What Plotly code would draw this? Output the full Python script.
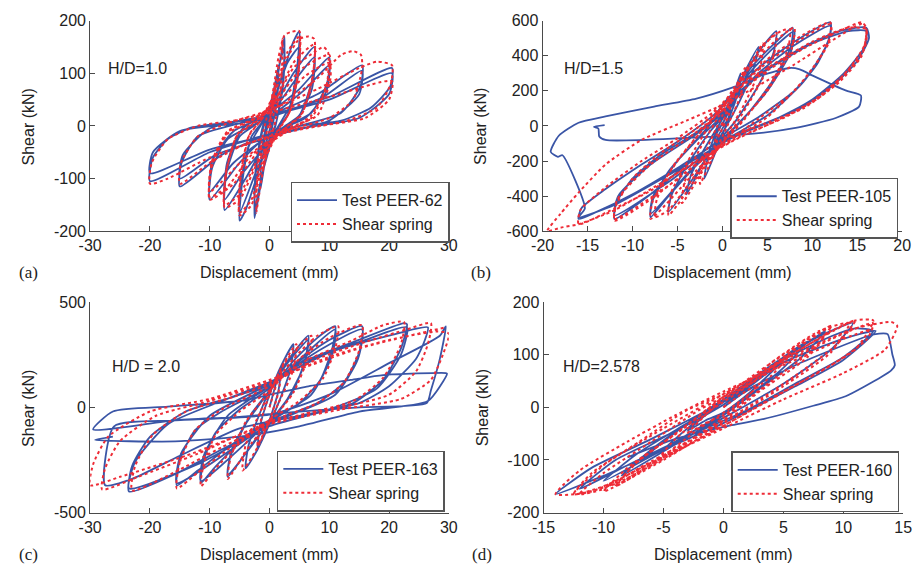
import plotly.graph_objects as go

# ---------------- data ----------------
# Panel (a)  H/D = 1.0
A_TEST = [
    (0, 0), (0.5, 35), (1, 70), (0.8, 30), (0.2, 0), (-0.5, -30), (-1, -60), (-0.8, -25), (-0.2, 5),
    (0.7, 55), (1.5, 115), (1.3, 50), (0.4, -5), (-0.6, -55), (-1.5, -120), (-1.3, -50), (-0.4, 10),
    (1, 70), (2.5, 170), (2.3, 90), (1.2, 10), (-0.2, -40), (-1.3, -100), (-2.5, -175), (-2.3, -90), (-1.2, -10), (0.2, 40),
    (1.3, 100), (2.5, 150), (2.3, 80), (1.1, 5), (-1.3, -95), (-2.5, -160), (-2.3, -80), (-1.1, 0),
    (0.5, 40), (2.5, 110), (4, 160), (5, 180), (4.7, 120), (3.5, 40), (1.5, 0), (-0.5, -40), (-2.5, -110), (-4, -160),
    (-5, -180), (-4.7, -120), (-3.5, -40), (-1.5, 0),
    (0.5, 40), (3, 120), (5, 150), (4.7, 90), (3, 20), (1, -10), (-2, -80), (-5, -165), (-4.7, -100), (-3, -20), (-1, 10),
    (1, 40), (4, 100), (7.5, 150), (7.2, 90), (5, 20), (2, -5), (-1, -40), (-4, -100), (-7.5, -160), (-7.2, -90), (-5, -20), (-2, 5),
    (1, 35), (4.5, 90), (7.5, 130), (7.1, 70), (4.5, 10), (1, -20), (-4.5, -90), (-7.5, -140), (-7.1, -70), (-4.5, -5),
    (0, 25), (5, 70), (10, 130), (9.6, 80), (7, 25), (3, 0), (-1, -25), (-5, -70), (-10, -140), (-9.6, -80), (-7, -25), (-3, 0),
    (1, 25), (6, 70), (10, 115), (9.5, 65), (6, 15), (1, -10), (-6, -70), (-10, -125), (-9.5, -65), (-6, -10),
    (0, 20), (8, 60), (15.5, 115), (15.2, 75), (12, 25), (5, 0), (0, -15), (-8, -55), (-15, -115), (-14.7, -70), (-12, -20), (-5, 5),
    (1, 20), (9, 55), (15.5, 105), (15, 60), (10, 10), (2, -15), (-9, -55), (-15, -100), (-14.5, -55), (-10, -5),
    (0, 20), (10, 55), (20.5, 110), (20.2, 75), (17, 35), (12, 10), (5, 0), (0, -15), (-10, -50), (-20, -105),
    (-19.5, -60), (-17, -25), (-13, -3), (-6, 8),
    (0, 20), (10, 50), (20.5, 100), (20, 60), (15, 15), (5, -5), (-10, -45), (-20, -90), (-19.5, -50), (-15, -10), (-5, 5), (0, 15),
]
A_SPRING = [
    (0, 0), (0.5, 40), (1, 80), (0.8, 30), (0, -10), (-0.5, -45), (-1, -80), (-0.8, -30), (0, 10),
    (1, 80), (2, 140), (2.2, 165), (2, 90), (1, 10), (-1, -80), (-2, -150), (-2.2, -165), (-2, -90), (-1, -10),
    (0.5, 60), (1.5, 130), (2.5, 172), (3.5, 178), (5, 180), (4.9, 110), (3.5, 30), (1.5, -10), (-1, -70), (-3, -150),
    (-5, -170), (-4.9, -100), (-3.5, -20), (-1.5, 10),
    (0.5, 55), (3, 140), (5, 170), (4.8, 100), (3.3, 25), (1.3, -10), (-1, -60), (-3, -140), (-5, -165), (-4.8, -95),
    (-3.3, -15), (-1.3, 12),
    (0.5, 50), (3, 130), (5, 165), (6.5, 170), (7.5, 165), (7.3, 100), (5.5, 25), (2, -10), (-2, -70), (-5, -140),
    (-7.5, -155), (-7.3, -90), (-5.5, -20), (-2, 10),
    (1, 50), (4, 120), (7.5, 155), (7.2, 90), (5.3, 20), (2, -10), (-2, -65), (-5, -130), (-7.5, -150), (-7.2, -85),
    (-5.3, -15), (-2, 12),
    (1, 50), (4, 110), (7.5, 140), (9, 150), (9.8, 140), (9.6, 80), (7, 20), (3, -10), (-2, -50), (-6, -110),
    (-10, -140), (-9.7, -80), (-7, -15), (-3, 10),
    (1, 45), (5, 105), (10, 135), (9.7, 80), (7, 15), (3, -8), (-3, -55), (-7, -115), (-10, -135), (-9.7, -75),
    (-7, -12), (-3, 12),
    (1, 40), (6, 95), (10, 120), (10.2, 90), (8, 20), (3, -5), (-4, -60), (-10, -125), (-9.7, -70), (-7, -10), (-2, 15),
    (2, 40), (8, 90), (12, 135), (14, 142), (15.3, 135), (15.5, 110), (14, 50), (10, 15), (3, -8), (-5, -40),
    (-10, -70), (-15, -110), (-14.8, -70), (-12, -20), (-7, 5),
    (0, 30), (8, 70), (15, 110), (18, 122), (20.5, 115), (20.3, 80), (18, 35), (13, 10), (6, -5), (0, -20),
    (-10, -60), (-17, -100), (-20, -110), (-19.7, -70), (-17, -25), (-12, 0), (-6, 10), (0, 25), (10, 55),
    (20.5, 85), (20, 50), (16, 15), (8, 0), (0, -10),
]

# Panel (b)  H/D = 1.5
B_TEST = [
    (0, 0), (1, 150), (0.7, 50), (-0.5, -60), (-1, -150), (-0.7, -50), (0.5, 60),
    (2, 300), (1.5, 150), (0, -50), (-2, -300), (-1.5, -150), (0, 50),
    (2, 260), (4, 450), (3.5, 330), (2, 150), (0, -40), (-2, -200), (-4, -390), (-3.5, -280), (-2, -130), (0, 40),
    (2, 250), (4, 420), (6, 540), (5.7, 420), (4, 230), (1.5, 30), (-1, -120), (-3, -280), (-6, -490), (-5.7, -400),
    (-4, -230), (-1.5, -40), (1, 110),
    (3, 320), (6, 480), (7.8, 560), (7.6, 450), (5.5, 250), (2.5, 50), (0, -80), (-3, -230), (-6, -400), (-8, -520),
    (-7.8, -430), (-6, -260), (-3, -90), (0, 60),
    (3, 300), (6, 460), (8, 540), (7.6, 420), (5, 200), (1.5, 0), (-3, -220), (-8, -500), (-7.7, -400), (-5, -200), (-1.5, 0),
    (0, 120), (4, 330), (8, 480), (12, 590), (12, 520), (10.5, 350), (8, 200), (4, 50), (0, -70), (-4, -220),
    (-8, -390), (-12, -530), (-11.8, -440), (-10, -300), (-7, -170), (-3, -40), (0, 80),
    (4, 300), (8, 460), (12, 570), (11.7, 470), (9, 250), (5, 60), (0, -90), (-6, -320), (-12, -510), (-11.6, -400),
    (-8, -220), (-3, -50), (0, 70),
    (4, 290), (9, 450), (13, 540), (16, 560), (16.3, 500), (15, 370), (12.5, 240), (9, 110), (5, 20), (0, -80),
    (-5, -240), (-10, -390), (-14, -490), (-16, -530), (-15.7, -470), (-13, -360), (-9, -220), (-5, -90), (-1, 60), (1, 160),
    (5, 320), (10, 470), (14, 540), (16, 540), (15.8, 450), (13.5, 300), (10, 150), (6, 40), (1, -70), (-6, -280),
    (-12, -450), (-16, -520), (-15.3, -470), (-17.8, -167), (-18.3, -176), (-19.1, -148), (-18.2, -56), (-16, 18),
    (-13, 54), (-7.6, 110), (-2.9, 156), (1, 217), (4.5, 290), (7.5, 330), (8.6, 322), (10.1, 285), (13.7, 202),
    (15.4, 174), (15.2, 110), (12.6, 45), (8.3, -10), (2.85, -47), (-13, -80), (-13.7, -60), (-13.8, -15),
    (-14.3, -5), (-13.1, 5),
]
B_SPRING = [
    (0, 0), (1, 170), (0.7, 60), (-0.5, -70), (-1, -170), (-0.7, -60), (0.5, 70),
    (2.5, 330), (2, 170), (0, -60), (-2.5, -330), (-2, -170), (0, 60),
    (2, 250), (4, 430), (4.5, 470), (4.2, 330), (2.5, 130), (0, -90), (-2, -240), (-4.5, -440), (-4.2, -320),
    (-2.5, -130), (0, 90),
    (2, 260), (5, 480), (6, 530), (5.7, 400), (3.5, 180), (1, -30), (-2, -230), (-5, -450), (-6, -510), (-5.7, -380),
    (-3.5, -170), (-1, 40),
    (2, 270), (4.5, 460), (6.5, 540), (7.5, 550), (7.3, 440), (5.5, 250), (2.5, 40), (0, -100), (-3, -280),
    (-6, -480), (-7.5, -520), (-7.3, -420), (-5.5, -230), (-2.5, -40), (0, 100),
    (3, 330), (6, 490), (8, 560), (7.7, 440), (5, 200), (1.5, -10), (-3, -260), (-8, -530), (-7.7, -420),
    (-5, -200), (-1.5, 20),
    (1, 170), (5, 380), (9, 520), (12, 590), (12.1, 520), (10.5, 360), (8, 200), (4, 40), (0, -110), (-4, -260),
    (-8, -420), (-12, -540), (-11.8, -450), (-10, -300), (-7, -160), (-3, -20), (0, 110),
    (4, 320), (8, 470), (12, 580), (11.8, 470), (9, 260), (5, 50), (0, -110), (-6, -340), (-12, -530),
    (-11.7, -420), (-8, -220), (-3, -40), (0, 90),
    (4, 280), (9, 440), (13, 540), (15.5, 590), (16, 560), (15.8, 460), (14, 320), (11, 170), (7, 50), (2, -60),
    (-3, -200), (-8, -370), (-12, -470), (-16, -560), (-15.8, -480), (-13, -350), (-9, -200), (-5, -70), (-1, 80), (1, 180),
    (5, 330), (10, 480), (14, 560), (16, 550), (15.8, 440), (13.5, 290), (10, 140), (6, 30), (1, -90), (-6, -300),
    (-12, -480), (-16, -560), (-18, -580), (-19.5, -600), (-18, -500), (-16, -380), (-13, -220), (-9, -80),
    (-4, 30), (0, 120), (4, 230), (8, 350), (12, 480), (15.5, 580), (16, 540), (15.5, 400), (13, 250), (9, 100),
    (4, 0), (0, -80),
]

# Panel (c)  H/D = 2.0
C_TEST = [
    (0, 0), (2, 200), (1.5, 80), (0, -60), (-2, -200), (-1.5, -80), (0, 60),
    (2, 200), (4, 300), (3.5, 180), (1.5, 20), (0, -80), (-2, -200), (-4, -290), (-3.5, -180), (-1.5, -20), (0, 80),
    (3, 220), (6.5, 340), (6, 230), (4, 80), (1, -40), (-2, -140), (-7, -330), (-6.5, -230), (-4, -80), (-1, 40),
    (3, 210), (6.5, 320), (5.8, 200), (3, 40), (0, -70), (-7, -320), (-6.3, -200), (-3, -30), (0, 80),
    (4, 220), (8, 330), (11, 385), (10.5, 280), (8.5, 130), (5, 20), (0, -60), (-5, -170), (-9, -280),
    (-11.5, -360), (-11, -250), (-9, -120), (-5, -10), (0, 90),
    (4, 200), (11, 370), (10.5, 250), (7, 60), (0, -70), (-11.5, -350), (-11, -230), (-7, -40), (0, 100),
    (5, 220), (10, 320), (15.5, 385), (15, 260), (12.5, 120), (8, 20), (0, -70), (-6, -170), (-12, -300),
    (-15.5, -370), (-15, -250), (-12.5, -110), (-8, -20), (0, 100),
    (6, 230), (15.5, 370), (14.8, 230), (11, 60), (0, -80), (-15.5, -360), (-14.8, -220), (-10, -40), (0, 110),
    (6, 220), (14, 310), (22.5, 400), (23, 395), (22, 280), (19, 130), (14, 20), (6, -40), (0, -90), (-8, -200),
    (-16, -320), (-23.5, -400), (-23, -280), (-20, -140), (-14, -20), (-6, 50), (0, 110),
    (8, 240), (16, 320), (23, 380), (22, 250), (18, 90), (10, -10), (0, -90), (-12, -270), (-23.5, -385),
    (-22.5, -260), (-17, -80), (-8, 30), (0, 120),
    (10, 260), (20, 340), (26.5, 380), (26, 320), (24.5, 230), (20, 100), (15, 20), (5, -40), (-5, -100),
    (-15, -230), (-23, -340), (-27.5, -370), (-26, -90), (-16, -62), (0, -35), (10, 60), (20, 210),
    (28.5, 340), (29.5, 385), (28.5, 230), (27, 80), (26.3, 20), (15, 0), (5, -20), (-5, -45), (-16, -62),
    (-29.5, -105), (-26.2, -20), (-17, 3), (-5, 30), (0, 60), (6.5, 100), (13.6, 130), (19, 153), (29.5, 163),
    (29.7, 160), (26.5, 30), (15, -20), (5, -90), (-5, -139), (-15.8, -162), (-29.2, -155), (-26.2, -139),
]
C_SPRING = [
    (0, 0), (2, 180), (1.5, 70), (0, -60), (-2, -180), (-1.5, -70), (0, 60),
    (2, 190), (4.5, 300), (4, 180), (1.5, 20), (0, -70), (-2, -190), (-4.5, -300), (-4, -180), (-1.5, -20), (0, 70),
    (3, 230), (7, 340), (6.5, 240), (4, 70), (1, -40), (-3, -170), (-7, -340), (-6.5, -240), (-4, -70), (-1, 40),
    (4, 230), (8, 340), (11.5, 385), (11, 280), (9, 140), (5, 30), (0, -60), (-5, -170), (-9, -290),
    (-11.5, -375), (-11, -270), (-9, -130), (-5, -20), (0, 80),
    (5, 230), (10, 330), (15.5, 390), (15, 270), (12.5, 120), (8, 20), (0, -70), (-6, -180), (-12, -310),
    (-15.5, -385), (-15, -260), (-12.5, -110), (-8, -10), (0, 100),
    (6, 220), (14, 320), (19, 390), (22.5, 405), (22, 300), (19, 140), (14, 30), (6, -30), (0, -80), (-8, -190),
    (-16, -310), (-23, -395), (-22.5, -280), (-19.5, -130), (-14, -20), (-6, 50), (0, 110),
    (8, 230), (16, 310), (23, 370), (27, 400), (26.5, 300), (24.5, 170), (20, 60), (12, 0), (0, -70), (-12, -220),
    (-22, -330), (-28, -390), (-27.5, -290), (-25, -160), (-19, -40), (-10, 30), (0, 120),
    (10, 240), (20, 320), (28, 360), (30, 350), (29, 250), (27, 130), (22, 40), (12, -10), (0, -80), (-14, -230),
    (-25, -330), (-30, -370), (-29.5, -270), (-27, -140), (-20, -20), (-10, 40), (0, 130), (15, 280), (29.5, 380),
]

# Panel (d)  H/D = 2.578
D_TEST = [
    (0, 0), (1.5, 25), (3, 45), (1.5, 15), (0, -10), (-1.5, -25), (-3, -45), (-1.5, -15), (0, 10),
    (2.5, 45), (5, 90), (3, 45), (0, -15), (-2.5, -45), (-5, -80), (-3, -40), (0, 15),
    (3, 55), (5, 95), (7, 125), (5, 75), (2, 20), (-1, -25), (-4, -65), (-7, -105), (-5, -65), (-2, -15), (1, 30),
    (4, 75), (6.5, 115), (8.5, 145), (6.5, 95), (3, 35), (0, -15), (-4, -70), (-8.5, -130), (-6, -80), (-3, -30), (0, 15),
    (4, 80), (8, 135), (10.8, 160), (9, 110), (5, 45), (0, -20), (-5, -80), (-10, -140), (-7, -85), (-3, -30), (1, 25),
    (5, 90), (9, 135), (11, 150), (12.5, 145), (10, 95), (6, 45), (2, -5), (-3, -55), (-8, -110), (-12, -155),
    (-9, -100), (-4, -45), (0, 5),
    (5, 85), (10, 130), (12.7, 145), (10, 90), (6, 40), (0, -30), (-6, -90), (-10, -130), (-14, -165), (-11, -115),
    (-6, -60), (0, 10), (6, 80), (12, 135), (13, 140), (13.7, 139), (14.1, 100), (14.3, 80), (14.0, 70),
    (13.2, 58), (10.2, 21), (7.5, 3), (3.4, -22), (0.7, -34), (-4, -60), (-8, -95),
]
D_SPRING = [
    (0, 0), (1.5, 25), (3, 45), (1.5, 10), (0, -15), (-1.5, -30), (-3, -50), (-1.5, -15), (0, 15),
    (3, 55), (5.5, 100), (4, 60), (1, 5), (-2, -40), (-5.5, -100), (-4, -60), (-1, -5), (2, 40),
    (5, 95), (8, 140), (9, 155), (7.5, 110), (4, 50), (0, -20), (-4, -80), (-8, -135), (-9, -150), (-7.5, -110),
    (-4, -50), (0, 20),
    (5, 100), (9, 155), (7, 95), (3, 30), (0, -25), (-5, -95), (-9, -150), (-7, -100), (-3, -35), (0, 20),
    (5, 90), (9, 145), (11, 165), (9.5, 120), (6, 60), (2, 0), (-3, -65), (-7, -115), (-10, -155), (-12, -165),
    (-10, -125), (-6, -65), (-2, -5), (2, 45),
    (4, 85), (8, 145), (10.5, 160), (9, 105), (5, 40), (0, -30), (-5, -100), (-10, -160), (-8, -115), (-4, -50), (0, 15),
    (6, 95), (10, 140), (12.5, 160), (12, 130), (9, 80), (5, 30), (0, -35), (-5, -95), (-10, -150), (-12.5, -165),
    (-11, -125), (-7, -65), (-3, -5), (0, 25),
    (6, 105), (11, 165), (12.5, 165), (11, 110), (7, 55), (2, -10), (-4, -85), (-9, -145), (-12.5, -165),
    (-10, -110), (-5, -40), (0, 25),
    (6, 100), (11, 150), (14, 162), (14.5, 155), (13.5, 110), (10, 65), (5, 15), (0, -40), (-6, -105), (-11, -160),
    (-14, -165), (-12, -120), (-8, -65), (-4, -15), (0, 30), (5, 80), (10, 130), (12.5, 150),
]

TEST_NAMES = ["Test PEER-62", "Test PEER-105", "Test PEER-163", "Test PEER-160"]
SPRING_NAME = "Shear spring"
HD_LABELS = ["H/D=1.0", "H/D=1.5", "H/D = 2.0", "H/D=2.578"]
PANEL_LABELS = ["(a)", "(b)", "(c)", "(d)"]
X_TICKS = [[-30, -20, -10, 0, 10, 20, 30], [-20, -15, -10, -5, 0, 5, 10, 15, 20],
           [-30, -20, -10, 0, 10, 20, 30], [-15, -10, -5, 0, 5, 10, 15]]
Y_TICKS = [[-200, -100, 0, 100, 200], [-600, -400, -200, 0, 200, 400, 600],
           [-500, 0, 500], [-200, -100, 0, 100, 200]]

# ---------------- layout geometry (pixels) ----------------
W, H = 921, 575
def fx(p):
    return p / W
def fy(p):
    return 1 - p / H

# plot box: left, right, top, bottom (pixels)
BOXES = [(80, 447, 13, 230), (543, 911, 13, 230), (80, 447, 303, 520), (544, 912, 303, 520)]
LEGEND_POS = [(285, 179), (735, 175), (271, 456), (736, 457)]
HD_POS = [(96, 62), (563, 62), (100, 369), (562, 369)]

BLUE = "#3a55a6"
RED = "#ee2c37"
AXC = "#4a4a4a"
SANS = "Liberation Sans, Arial, sans-serif"
SERIF = "Liberation Serif, Times New Roman, serif"

fig = go.Figure()
data_sets = [(A_TEST, A_SPRING), (B_TEST, B_SPRING), (C_TEST, C_SPRING), (D_TEST, D_SPRING)]
annotations = []
layout_upd = {}
for i, (test, spring) in enumerate(data_sets):
    n = "" if i == 0 else str(i + 1)
    xa, ya = "x" + n, "y" + n
    lg = "legend" + n
    fig.add_trace(go.Scatter(
        x=[p[0] for p in test], y=[p[1] for p in test], mode="lines", name=TEST_NAMES[i],
        line=dict(color=BLUE, width=1.8, shape="spline", smoothing=0.6),
        xaxis=xa, yaxis=ya, legend=lg))
    fig.add_trace(go.Scatter(
        x=[p[0] for p in spring], y=[p[1] for p in spring], mode="lines", name=SPRING_NAME,
        line=dict(color=RED, width=2, dash="dot", shape="spline", smoothing=0.6),
        xaxis=xa, yaxis=ya, legend=lg))
    l, r, t, b = BOXES[i]
    xt, yt = X_TICKS[i], Y_TICKS[i]
    common = dict(showline=True, linecolor=AXC, linewidth=1, ticks="inside", ticklen=5,
                  tickcolor=AXC, showgrid=False, zeroline=False,
                  tickfont=dict(family=SANS, size=16, color="#222"))
    layout_upd["xaxis" + n] = dict(domain=[fx(l), fx(r)], anchor=ya, range=[xt[0], xt[-1]],
                                   tickvals=xt, ticktext=[str(v) for v in xt], **common)
    layout_upd["yaxis" + n] = dict(domain=[fy(b), fy(t)], anchor=xa, range=[yt[0], yt[-1]],
                                   tickvals=yt, ticktext=[str(v) for v in yt], **common)
    lx, ly = LEGEND_POS[i]
    layout_upd[lg] = dict(x=fx(lx), y=fy(ly), xanchor="left", yanchor="top",
                          bgcolor="white", bordercolor="#555", borderwidth=1.5,
                          font=dict(family=SANS, size=16, color="#222"),
                          tracegroupgap=0, itemwidth=40)
    hx, hy = HD_POS[i]
    annotations.append(dict(text=HD_LABELS[i], x=fx(hx), y=fy(hy), xref="paper", yref="paper",
                            xanchor="left", yanchor="middle", showarrow=False,
                            font=dict(family=SANS, size=16, color="#222")))
    cx = (l + r) / 2
    annotations.append(dict(text="Displacement (mm)", x=fx(cx), y=fy(b + 43), xref="paper", yref="paper",
                            xanchor="center", yanchor="middle", showarrow=False,
                            font=dict(family=SANS, size=16, color="#222")))
    annotations.append(dict(text="Shear (kN)", x=fx(l - 63), y=fy((t + b) / 2 + 1), xref="paper", yref="paper",
                            xanchor="center", yanchor="middle", showarrow=False, textangle=-90,
                            font=dict(family=SANS, size=16, color="#222")))
    annotations.append(dict(text=PANEL_LABELS[i], x=fx(l - 63), y=fy(b + 43), xref="paper", yref="paper",
                            xanchor="center", yanchor="middle", showarrow=False,
                            font=dict(family=SERIF, size=17, color="#222")))

fig.update_layout(width=W, height=H, margin=dict(l=0, r=0, t=0, b=0),
                  plot_bgcolor="white", paper_bgcolor="white",
                  annotations=annotations, **layout_upd)
fig.write_html("out.html")
